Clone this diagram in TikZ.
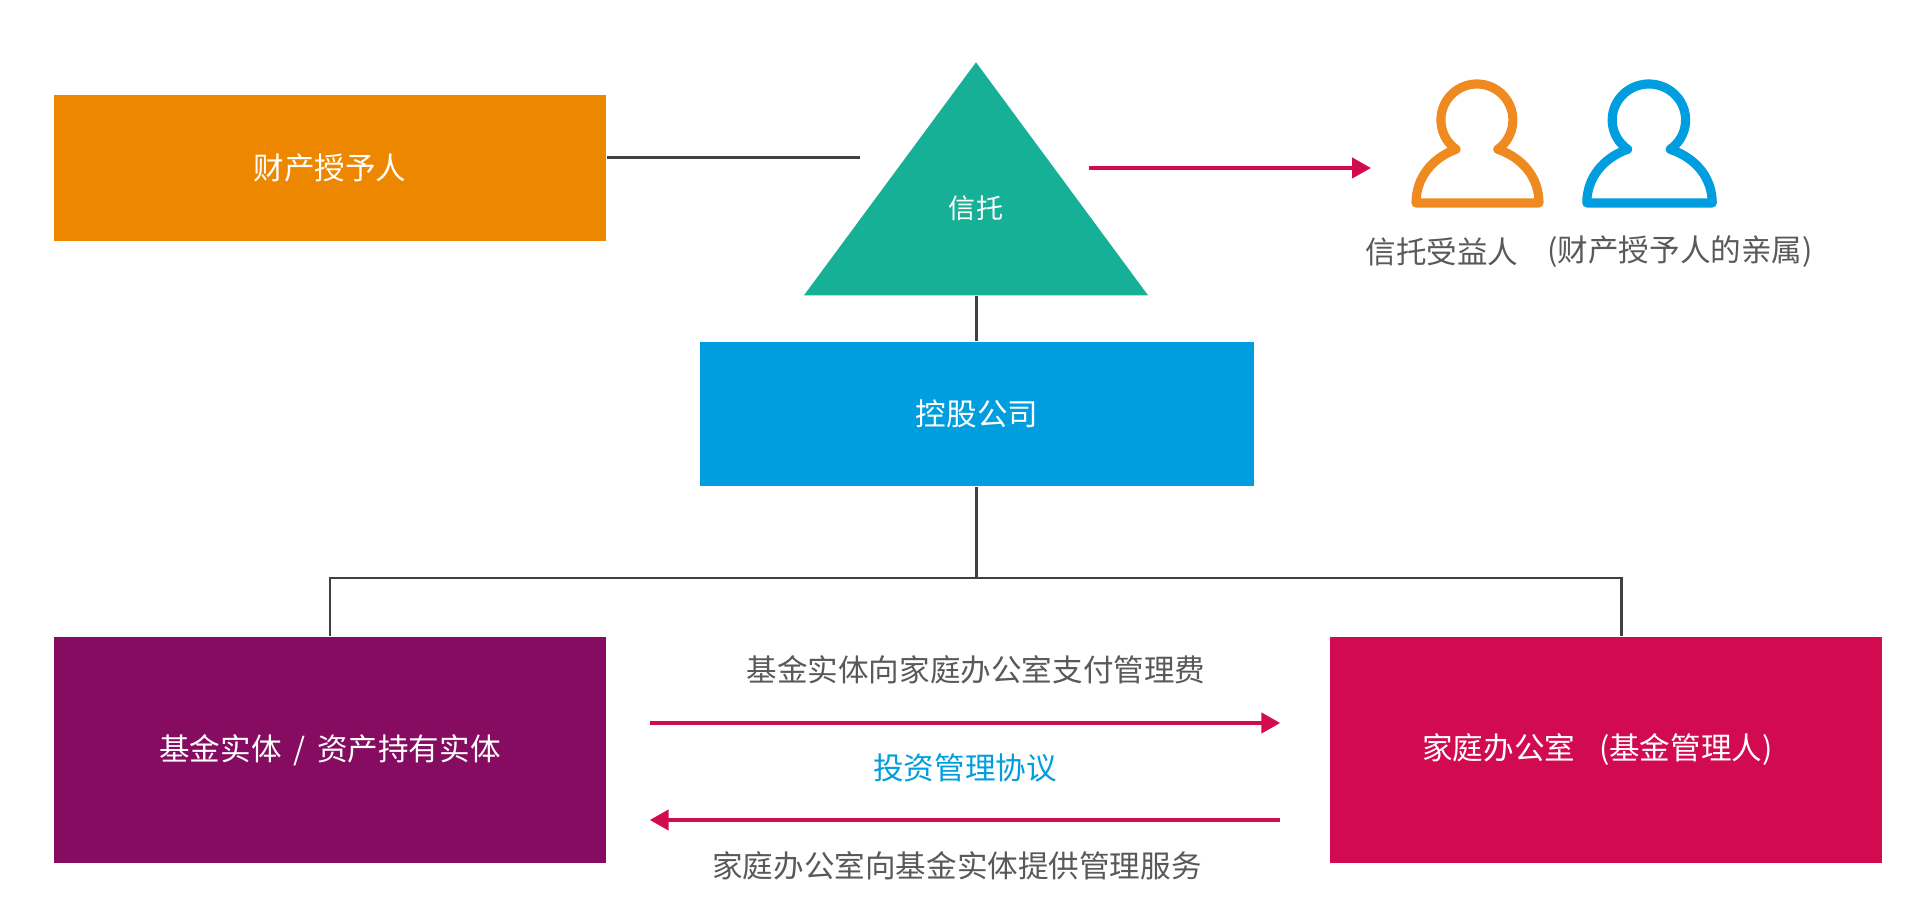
\documentclass[tikz,border=0pt]{standalone}
\usepackage{xcolor}
\usepackage{fontspec}
\setmainfont{Noto Sans CJK SC}
\usepackage{tikz}
\usetikzlibrary{shapes.geometric, arrows.meta}

\definecolor{settlorcolor}{HTML}{EE8700}
\definecolor{trustcolor}{HTML}{16B097}
\definecolor{skycolor}{HTML}{009DDF}
\definecolor{fundcolor}{HTML}{850C60}
\definecolor{officecolor}{HTML}{D20A50}
\definecolor{iconorange}{HTML}{EE8A20}
\definecolor{captioncolor}{HTML}{595959}
\definecolor{linkcolor}{HTML}{404040}

\begin{document}
\begin{tikzpicture}[
    block/.style={rectangle, minimum width=5.52cm, inner sep=0pt, text=white, font=\fontsize{8.7}{10}\selectfont},
    trustshape/.style={isosceles triangle, isosceles triangle stretches, shape border rotate=90, minimum width=3.44cm, minimum height=2.33cm, inner sep=0pt, fill=trustcolor},
    caption/.style={inner sep=0pt, text=captioncolor, font=\fontsize{8.7}{10}\selectfont},
    link/.style={draw=linkcolor, line width=0.85pt},
    arrow/.style={-{Stealth[length=1.9mm, width=2mm, inset=0pt]}, draw=officecolor, line width=1.2pt},
    person/.style={line width=2.6pt, line join=round},
    personicon/.pic={
        \draw[person, pic actions] (-0.21,-0.293) arc[start angle=234.5, end angle=-54.5, radius=0.36] .. controls (0.46,-0.38) and (0.62,-0.58) .. (0.62,-0.83) -- (-0.61,-0.83) .. controls (-0.61,-0.58) and (-0.45,-0.38) .. (-0.21,-0.293) -- cycle;
    },
]
\useasboundingbox (0,0) rectangle (19.2,9.18);

\node[block, fill=settlorcolor, minimum height=1.46cm] (settlor) at (3.30,7.50) {财产授予人};
\node[trustshape, anchor=lower side] (trust) at (9.76,6.22) {};
\node[inner sep=0pt, text=white, font=\fontsize{7.7}{9}\selectfont] (trustlabel) at (9.76,7.10) {信托};
\node[block, fill=skycolor, minimum width=5.54cm, minimum height=1.44cm] (holding) at (9.77,5.04) {控股公司};
\node[block, fill=fundcolor, minimum height=2.26cm] (fund) at (3.30,1.68) {基金实体\hspace{0.05cm} / \hspace{0.05cm}资产持有实体};
\node[block, fill=officecolor, minimum height=2.26cm] (office) at (16.06,1.68) {家庭办公室\hspace{0.17cm} (基金管理人)\hspace*{0.17cm}};

\node[caption] (beneficiary) at (14.42,6.66) {信托受益人};
\node[caption] (relatives) at (16.80,6.66) {(财产授予人的亲属)};
\node[caption] (feelabel) at (9.76,2.48) {基金实体向家庭办公室支付管理费};
\node[caption, text=skycolor] (agreement) at (9.65,1.50) {投资管理协议};
\node[caption] (servicelabel) at (9.57,0.52) {家庭办公室向基金实体提供管理服务};

% person icons
\pic[draw=iconorange] (orangeperson) at (14.77,7.98) {personicon};
\pic[draw=skycolor, xscale=1.02] (blueperson) at (16.49,7.98) {personicon};

\coordinate (trustgap) at (8.60,7.60);
\coordinate (benefitstart) at (10.89,7.50);
\coordinate (benefitend) at (13.71,7.50);
\coordinate (bus) at (9.76,3.40);

\draw[link] ([yshift=0.10cm]settlor.east) -- (trustgap);
\draw[arrow] (benefitstart) -- (benefitend);
\draw[link] (trust.lower side) -- (trust.lower side |- holding.north);
\draw[link] (holding.south -| bus) -- (bus);
\draw[link] (bus) -| (fund.north);
\draw[link] (bus) -| ([xshift=0.15cm]office.north);
\draw[arrow] ([shift={(0.43,0.27)}]fund.east) -- ([shift={(-0.49,0.27)}]office.west);
\draw[arrow] ([shift={(-0.49,-0.70)}]office.west) -- ([shift={(0.43,-0.70)}]fund.east);
\end{tikzpicture}
\end{document}
